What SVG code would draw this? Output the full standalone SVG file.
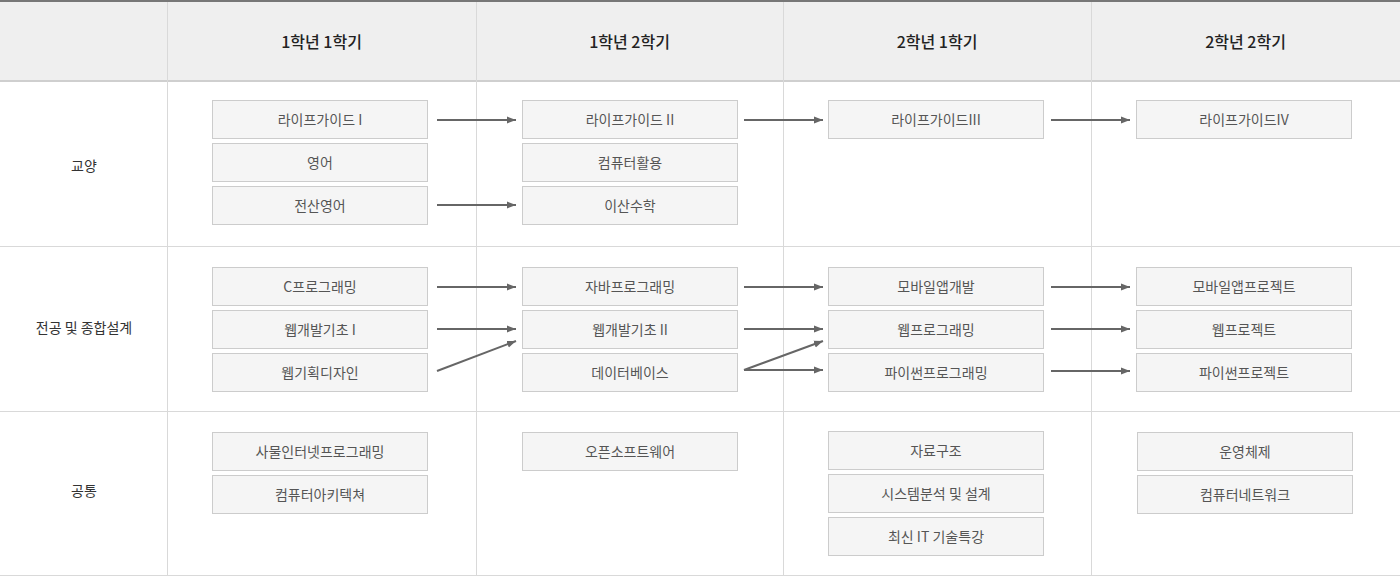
<svg xmlns="http://www.w3.org/2000/svg" width="1400" height="576" viewBox="0 0 1400 576">
<style>
text{font-family:"Noto Sans CJK KR","Noto Sans",sans-serif;text-anchor:middle;dominant-baseline:central}
.hd{font-size:16px;font-weight:500;fill:#222}
.rl{font-size:14px;fill:#333}
.bx rect{fill:#f5f5f5;stroke:#cccccc;stroke-width:1}
.bx text{font-size:14px;fill:#555}
.ln{stroke:#d9d9d9;stroke-width:1}
.ar{stroke:#666;stroke-width:2;fill:none;marker-end:url(#ah)}
</style>
<defs>
<marker id="ah" markerUnits="userSpaceOnUse" markerWidth="10" markerHeight="10" viewBox="0 0 10 10" refX="9" refY="5" orient="auto">
<path d="M0,1.5 L9,5 L0,8.5 Z" fill="#666"/>
</marker>
</defs>
<rect x="0" y="0" width="1400" height="576" fill="#fff"/>
<g id="grid">
<rect x="0" y="2" width="1400" height="79" fill="#efefef"/>
<rect x="0" y="0" width="1400" height="2" fill="#777"/>
<rect x="0" y="80" width="1400" height="2" fill="#cfcfcf"/>
<line class="ln" x1="167.5" y1="2" x2="167.5" y2="576"/>
<line class="ln" x1="476.5" y1="2" x2="476.5" y2="576"/>
<line class="ln" x1="783.5" y1="2" x2="783.5" y2="576"/>
<line class="ln" x1="1091.5" y1="2" x2="1091.5" y2="576"/>
<line class="ln" x1="0" y1="246.5" x2="1400" y2="246.5"/>
<line class="ln" x1="0" y1="411.5" x2="1400" y2="411.5"/>
<line class="ln" x1="0" y1="575.5" x2="1400" y2="575.5"/>
</g>
<g id="headers">
<text class="hd" x="321.5" y="41">1학년 1학기</text>
<text class="hd" x="629.5" y="41">1학년 2학기</text>
<text class="hd" x="937" y="41">2학년 1학기</text>
<text class="hd" x="1245.5" y="41">2학년 2학기</text>
</g>
<g id="rows">
<text class="rl" x="84" y="165">교양</text>
<text class="rl" x="84" y="327">전공 및 종합설계</text>
<text class="rl" x="84" y="490">공통</text>
</g>
<g id="n1" class="bx"><rect x="212.5" y="100.5" width="215" height="38"/><text x="320" y="118.5">라이프가이드 I</text></g>
<g id="n2" class="bx"><rect x="212.5" y="143.5" width="215" height="38"/><text x="320" y="161.5">영어</text></g>
<g id="n3" class="bx"><rect x="212.5" y="186.5" width="215" height="38"/><text x="320" y="204.5">전산영어</text></g>
<g id="n4" class="bx"><rect x="522.5" y="100.5" width="215" height="38"/><text x="630" y="118.5">라이프가이드 II</text></g>
<g id="n5" class="bx"><rect x="522.5" y="143.5" width="215" height="38"/><text x="630" y="161.5">컴퓨터활용</text></g>
<g id="n6" class="bx"><rect x="522.5" y="186.5" width="215" height="38"/><text x="630" y="204.5">이산수학</text></g>
<g id="n7" class="bx"><rect x="828.5" y="100.5" width="215" height="38"/><text x="936" y="118.5">라이프가이드III</text></g>
<g id="n8" class="bx"><rect x="1136.5" y="100.5" width="215" height="38"/><text x="1244" y="118.5">라이프가이드IV</text></g>
<g id="n9" class="bx"><rect x="212.5" y="267.5" width="215" height="38"/><text x="320" y="285.5">C프로그래밍</text></g>
<g id="n10" class="bx"><rect x="212.5" y="310.5" width="215" height="38"/><text x="320" y="328.5">웹개발기초 I</text></g>
<g id="n11" class="bx"><rect x="212.5" y="353.5" width="215" height="38"/><text x="320" y="371.5">웹기획디자인</text></g>
<g id="n12" class="bx"><rect x="522.5" y="267.5" width="215" height="38"/><text x="630" y="285.5">자바프로그래밍</text></g>
<g id="n13" class="bx"><rect x="522.5" y="310.5" width="215" height="38"/><text x="630" y="328.5">웹개발기초 II</text></g>
<g id="n14" class="bx"><rect x="522.5" y="353.5" width="215" height="38"/><text x="630" y="371.5">데이터베이스</text></g>
<g id="n15" class="bx"><rect x="828.5" y="267.5" width="215" height="38"/><text x="936" y="285.5">모바일앱개발</text></g>
<g id="n16" class="bx"><rect x="828.5" y="310.5" width="215" height="38"/><text x="936" y="328.5">웹프로그래밍</text></g>
<g id="n17" class="bx"><rect x="828.5" y="353.5" width="215" height="38"/><text x="936" y="371.5">파이썬프로그래밍</text></g>
<g id="n18" class="bx"><rect x="1136.5" y="267.5" width="215" height="38"/><text x="1244" y="285.5">모바일앱프로젝트</text></g>
<g id="n19" class="bx"><rect x="1136.5" y="310.5" width="215" height="38"/><text x="1244" y="328.5">웹프로젝트</text></g>
<g id="n20" class="bx"><rect x="1136.5" y="353.5" width="215" height="38"/><text x="1244" y="371.5">파이썬프로젝트</text></g>
<g id="n21" class="bx"><rect x="212.5" y="432.5" width="215" height="38"/><text x="320" y="450.5">사물인터넷프로그래밍</text></g>
<g id="n22" class="bx"><rect x="212.5" y="475.5" width="215" height="38"/><text x="320" y="493.5">컴퓨터아키텍쳐</text></g>
<g id="n23" class="bx"><rect x="522.5" y="432.5" width="215" height="38"/><text x="630" y="450.5">오픈소프트웨어</text></g>
<g id="n24" class="bx"><rect x="828.5" y="431.5" width="215" height="38"/><text x="936" y="449.5">자료구조</text></g>
<g id="n25" class="bx"><rect x="828.5" y="474.5" width="215" height="38"/><text x="936" y="492.5">시스템분석 및 설계</text></g>
<g id="n26" class="bx"><rect x="828.5" y="517.5" width="215" height="38"/><text x="936" y="535.5">최신 IT 기술특강</text></g>
<g id="n27" class="bx"><rect x="1137.5" y="432.5" width="215" height="38"/><text x="1245" y="450.5">운영체제</text></g>
<g id="n28" class="bx"><rect x="1137.5" y="475.5" width="215" height="38"/><text x="1245" y="493.5">컴퓨터네트워크</text></g>
<g id="connectors">
<line class="ar" x1="437" y1="120" x2="516" y2="120"/>
<line class="ar" x1="437" y1="205" x2="516" y2="205"/>
<line class="ar" x1="437" y1="287" x2="516" y2="287"/>
<line class="ar" x1="437" y1="329" x2="516" y2="329"/>
<line class="ar" x1="437" y1="371" x2="516" y2="341"/>
<line class="ar" x1="744" y1="120" x2="823" y2="120"/>
<line class="ar" x1="744" y1="287" x2="823" y2="287"/>
<line class="ar" x1="744" y1="329" x2="823" y2="329"/>
<line class="ar" x1="744" y1="370" x2="823" y2="341"/>
<line class="ar" x1="744" y1="370" x2="823" y2="370"/>
<line class="ar" x1="1051" y1="120" x2="1130" y2="120"/>
<line class="ar" x1="1051" y1="287" x2="1130" y2="287"/>
<line class="ar" x1="1051" y1="329" x2="1130" y2="329"/>
<line class="ar" x1="1051" y1="371" x2="1130" y2="371"/>
</g>
</svg>
